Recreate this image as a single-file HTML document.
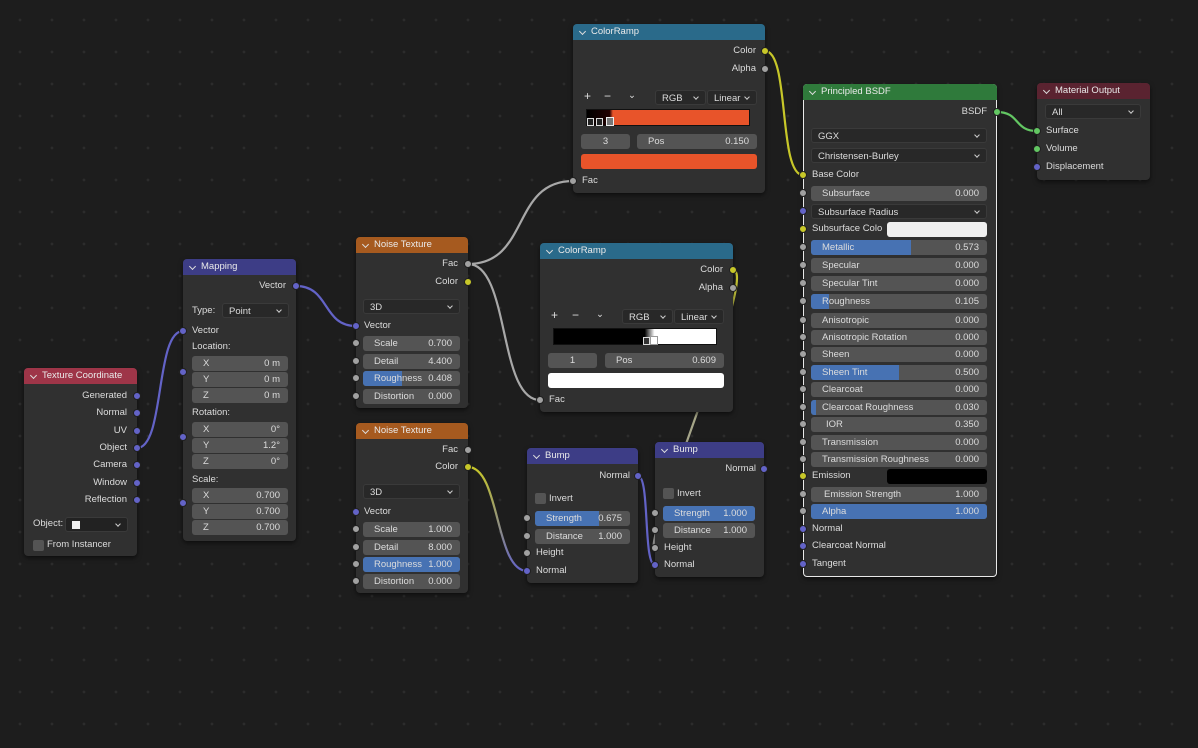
<!DOCTYPE html>
<html><head><meta charset="utf-8"><style>
*{margin:0;padding:0;box-sizing:border-box}
body{width:1198px;height:748px;overflow:hidden;position:relative;background-color:#1d1d1d;background-image:radial-gradient(circle,#2c2c2c 1.2px,transparent 1.6px);background-size:32px 32px;background-position:4px 4px;font-family:"Liberation Sans",sans-serif;font-size:9.5px;color:#dcdcdc}
.n{position:absolute;background:#303030;border-radius:4px;box-shadow:0 2px 5px rgba(0,0,0,.55)}
.h{position:absolute;left:0;right:0;top:0;height:16px;border-radius:4px 4px 0 0;color:#eaeaea;line-height:16px;padding-left:18px;font-size:9.5px}
.h:before{content:"";position:absolute;left:7px;top:5px;width:4px;height:4px;border-right:1.3px solid #ddd;border-bottom:1.3px solid #ddd;transform:rotate(45deg)}
.t{position:absolute;line-height:12px;white-space:nowrap}
.s{position:absolute;width:8px;height:8px;border-radius:50%;margin:-4px 0 0 -4px;background:#a1a1a1;border:1px solid #202020}
.y{background:#c7c729}.p{background:#6363c7}.g{background:#63c763}
.f{position:absolute;height:15px;background:#545454;border-radius:3px;line-height:15px;display:flex;justify-content:space-between;padding:0 8px 0 11px;white-space:nowrap;overflow:hidden}
.f span{position:relative}
.fill{position:absolute;left:0;top:0;bottom:0;background:#4772b3}
.d{position:absolute;height:15px;background:#282828;border-radius:3px;line-height:15px;padding-left:6px;white-space:nowrap;border:1px solid #3a3a3a}
.d:after{content:"";position:absolute;right:7px;top:4px;width:3px;height:3px;border-right:1.2px solid #ccc;border-bottom:1.2px solid #ccc;transform:rotate(45deg)}
.cb{position:absolute;width:11px;height:11px;background:#545454;border-radius:2px}
</style></head><body>

<svg width="1198" height="748" style="position:absolute;left:0;top:0" fill="none" stroke-width="2.2">
<defs>
<linearGradient id="yp" x1="0" y1="0" x2="0" y2="1"><stop offset="0" stop-color="#c7c729"/><stop offset="1" stop-color="#6363c7"/></linearGradient>
<linearGradient id="yg" x1="0" y1="0" x2="0" y2="1"><stop offset="0" stop-color="#c7c729"/><stop offset=".4" stop-color="#a8a880"/><stop offset="1" stop-color="#a1a1a1"/></linearGradient>
</defs>
<path d="M137 448 C165 448 155 331 183 331" stroke="#6363c7"/>
<path d="M296 286 C330 286 322 326 356 326" stroke="#6363c7"/>
<path d="M468 264 C530 264 511 181 573 181" stroke="#a8a8a8"/>
<path d="M468 264 C510 264 498 400 540 400" stroke="#a8a8a8"/>
<path d="M765 51 C790 51 778 175 803 175" stroke="#c7c729"/>
<path d="M733 270 C760 270 640 548 655 548" stroke="url(#yg)"/>
<path d="M468 467 C500 467 495 571 527 571" stroke="url(#yp)"/>
<path d="M638 476 C650 476 643 565 655 565" stroke="#6363c7"/>
<path d="M997 112 C1020 112 1014 131 1037 131" stroke="#63c763"/>
</svg>

<!-- Texture Coordinate -->
<div class="n" style="left:24px;top:368px;width:113px;height:188px"><div class="h" style="background:#9e3548">Texture Coordinate</div></div>
<div class="t" style="right:1071px;top:390px">Generated</div><div class="s p" style="left:137px;top:396px"></div>
<div class="t" style="right:1071px;top:407px">Normal</div><div class="s p" style="left:137px;top:413px"></div>
<div class="t" style="right:1071px;top:425px">UV</div><div class="s p" style="left:137px;top:431px"></div>
<div class="t" style="right:1071px;top:442px">Object</div><div class="s p" style="left:137px;top:448px"></div>
<div class="t" style="right:1071px;top:459px">Camera</div><div class="s p" style="left:137px;top:465px"></div>
<div class="t" style="right:1071px;top:477px">Window</div><div class="s p" style="left:137px;top:483px"></div>
<div class="t" style="right:1071px;top:494px">Reflection</div><div class="s p" style="left:137px;top:500px"></div>
<div class="t" style="left:33px;top:518px">Object:</div>
<div class="d" style="left:65px;top:517px;width:63px;background:#222"><span style="display:inline-block;width:8px;height:8px;background:#eee;margin-top:3px"></span></div>
<div class="cb" style="left:33px;top:540px"></div><div class="t" style="left:47px;top:539px">From Instancer</div>

<!-- Mapping -->
<div class="n" style="left:183px;top:259px;width:113px;height:282px"><div class="h" style="background:#3d3d86">Mapping</div></div>
<div class="t" style="right:912px;top:280px">Vector</div><div class="s p" style="left:296px;top:286px"></div>
<div class="t" style="left:192px;top:305px">Type:</div>
<div class="d" style="left:222px;top:303px;width:67px">Point</div>
<div class="t" style="left:192px;top:325px">Vector</div><div class="s p" style="left:183px;top:331px"></div>
<div class="t" style="left:192px;top:341px">Location:</div>
<div class="f" style="left:192px;top:356px;width:96px"><span>X</span><span>0 m</span></div>
<div class="f" style="left:192px;top:372px;width:96px"><span>Y</span><span>0 m</span></div>
<div class="f" style="left:192px;top:388px;width:96px"><span>Z</span><span>0 m</span></div>
<div class="s p" style="left:183px;top:372px"></div>
<div class="t" style="left:192px;top:407px">Rotation:</div>
<div class="f" style="left:192px;top:422px;width:96px"><span>X</span><span>0°</span></div>
<div class="f" style="left:192px;top:438px;width:96px"><span>Y</span><span>1.2°</span></div>
<div class="f" style="left:192px;top:454px;width:96px"><span>Z</span><span>0°</span></div>
<div class="s p" style="left:183px;top:437px"></div>
<div class="t" style="left:192px;top:474px">Scale:</div>
<div class="f" style="left:192px;top:488px;width:96px"><span>X</span><span>0.700</span></div>
<div class="f" style="left:192px;top:504px;width:96px"><span>Y</span><span>0.700</span></div>
<div class="f" style="left:192px;top:520px;width:96px"><span>Z</span><span>0.700</span></div>
<div class="s p" style="left:183px;top:503px"></div>

<!-- Noise 1 -->
<div class="n" style="left:356px;top:237px;width:112px;height:171px"><div class="h" style="background:#a65a1f">Noise Texture</div></div>
<div class="t" style="right:740px;top:258px">Fac</div><div class="s" style="left:468px;top:264px"></div>
<div class="t" style="right:740px;top:276px">Color</div><div class="s y" style="left:468px;top:282px"></div>
<div class="d" style="left:363px;top:299px;width:97px">3D</div>
<div class="t" style="left:364px;top:320px">Vector</div><div class="s p" style="left:356px;top:326px"></div>
<div class="f" style="left:363px;top:336px;width:97px"><span>Scale</span><span>0.700</span></div><div class="s" style="left:356px;top:343px"></div>
<div class="f" style="left:363px;top:354px;width:97px"><span>Detail</span><span>4.400</span></div><div class="s" style="left:356px;top:361px"></div>
<div class="f" style="left:363px;top:371px;width:97px"><div class="fill" style="width:40%"></div><span>Roughness</span><span>0.408</span></div><div class="s" style="left:356px;top:378px"></div>
<div class="f" style="left:363px;top:389px;width:97px"><span>Distortion</span><span>0.000</span></div><div class="s" style="left:356px;top:396px"></div>

<!-- Noise 2 -->
<div class="n" style="left:356px;top:423px;width:112px;height:170px"><div class="h" style="background:#a65a1f">Noise Texture</div></div>
<div class="t" style="right:740px;top:444px">Fac</div><div class="s" style="left:468px;top:450px"></div>
<div class="t" style="right:740px;top:461px">Color</div><div class="s y" style="left:468px;top:467px"></div>
<div class="d" style="left:363px;top:484px;width:97px">3D</div>
<div class="t" style="left:364px;top:506px">Vector</div><div class="s p" style="left:356px;top:512px"></div>
<div class="f" style="left:363px;top:522px;width:97px"><span>Scale</span><span>1.000</span></div><div class="s" style="left:356px;top:529px"></div>
<div class="f" style="left:363px;top:540px;width:97px"><span>Detail</span><span>8.000</span></div><div class="s" style="left:356px;top:547px"></div>
<div class="f" style="left:363px;top:557px;width:97px"><div class="fill" style="width:100%"></div><span>Roughness</span><span>1.000</span></div><div class="s" style="left:356px;top:564px"></div>
<div class="f" style="left:363px;top:574px;width:97px"><span>Distortion</span><span>0.000</span></div><div class="s" style="left:356px;top:581px"></div>

<!-- ColorRamp 1 -->
<div class="n" style="left:573px;top:24px;width:192px;height:169px"><div class="h" style="background:#2a6a8a">ColorRamp</div></div>
<div class="t" style="right:442px;top:45px">Color</div><div class="s y" style="left:765px;top:51px"></div>
<div class="t" style="right:442px;top:63px">Alpha</div><div class="s" style="left:765px;top:69px"></div>
<div class="t" style="left:584px;top:90px;font-size:12px">+</div><div class="t" style="left:604px;top:90px;font-size:12px">−</div><div class="t" style="left:628px;top:90px">⌄</div>
<div class="d" style="left:655px;top:90px;width:51px">RGB</div><div class="d" style="left:707px;top:90px;width:50px">Linear</div>
<div style="position:absolute;left:586px;top:109px;width:164px;height:17px;border:1px solid #111;background:linear-gradient(90deg,#000 0,#200 14%,#e8542a 16%,#e8542a 100%)"></div>
<div style="position:absolute;left:587px;top:118px;width:7px;height:8px;background:#222;border:1px solid #ddd"></div>
<div style="position:absolute;left:596px;top:118px;width:7px;height:8px;background:#222;border:1px solid #ddd"></div>
<div style="position:absolute;left:606px;top:117px;width:8px;height:9px;background:#777;border:1px solid #eee"></div>
<div class="f" style="left:581px;top:134px;width:49px;justify-content:center;padding:0">3</div>
<div class="f" style="left:637px;top:134px;width:120px"><span>Pos</span><span>0.150</span></div>
<div style="position:absolute;left:581px;top:154px;width:176px;height:15px;background:#e8542a;border-radius:3px"></div>
<div class="t" style="left:582px;top:175px">Fac</div><div class="s" style="left:573px;top:181px"></div>

<!-- ColorRamp 2 -->
<div class="n" style="left:540px;top:243px;width:193px;height:169px"><div class="h" style="background:#2a6a8a">ColorRamp</div></div>
<div class="t" style="right:475px;top:264px">Color</div><div class="s y" style="left:733px;top:270px"></div>
<div class="t" style="right:475px;top:282px">Alpha</div><div class="s" style="left:733px;top:288px"></div>
<div class="t" style="left:551px;top:309px;font-size:12px">+</div><div class="t" style="left:572px;top:309px;font-size:12px">−</div><div class="t" style="left:596px;top:309px">⌄</div>
<div class="d" style="left:622px;top:309px;width:51px">RGB</div><div class="d" style="left:674px;top:309px;width:50px">Linear</div>
<div style="position:absolute;left:553px;top:328px;width:164px;height:17px;border:1px solid #111;background:linear-gradient(90deg,#000 0,#000 56%,#fff 62%,#fff 100%)"></div>
<div style="position:absolute;left:643px;top:337px;width:7px;height:8px;background:#333;border:1px solid #ddd"></div>
<div style="position:absolute;left:650px;top:336px;width:8px;height:9px;background:#fff;border:1px solid #999"></div>
<div class="f" style="left:548px;top:353px;width:49px;justify-content:center;padding:0">1</div>
<div class="f" style="left:605px;top:353px;width:119px"><span>Pos</span><span>0.609</span></div>
<div style="position:absolute;left:548px;top:373px;width:176px;height:15px;background:#fff;border-radius:3px"></div>
<div class="t" style="left:549px;top:394px">Fac</div><div class="s" style="left:540px;top:400px"></div>

<!-- Bump 1 -->
<div class="n" style="left:527px;top:448px;width:111px;height:135px"><div class="h" style="background:#3d3d86">Bump</div></div>
<div class="t" style="right:568px;top:470px">Normal</div><div class="s p" style="left:638px;top:476px"></div>
<div class="cb" style="left:535px;top:493px"></div><div class="t" style="left:549px;top:493px">Invert</div>
<div class="f" style="left:535px;top:511px;width:95px"><div class="fill" style="width:67%"></div><span>Strength</span><span>0.675</span></div><div class="s" style="left:527px;top:518px"></div>
<div class="f" style="left:535px;top:529px;width:95px"><span>Distance</span><span>1.000</span></div><div class="s" style="left:527px;top:536px"></div>
<div class="t" style="left:536px;top:547px">Height</div><div class="s" style="left:527px;top:553px"></div>
<div class="t" style="left:536px;top:565px">Normal</div><div class="s p" style="left:527px;top:571px"></div>

<!-- Bump 2 -->
<div class="n" style="left:655px;top:442px;width:109px;height:135px"><div class="h" style="background:#3d3d86">Bump</div></div>
<div class="t" style="right:442px;top:463px">Normal</div><div class="s p" style="left:764px;top:469px"></div>
<div class="cb" style="left:663px;top:488px"></div><div class="t" style="left:677px;top:488px">Invert</div>
<div class="f" style="left:663px;top:506px;width:92px"><div class="fill" style="width:100%"></div><span>Strength</span><span>1.000</span></div><div class="s" style="left:655px;top:513px"></div>
<div class="f" style="left:663px;top:523px;width:92px"><span>Distance</span><span>1.000</span></div><div class="s" style="left:655px;top:530px"></div>
<div class="t" style="left:664px;top:542px">Height</div><div class="s" style="left:655px;top:548px"></div>
<div class="t" style="left:664px;top:559px">Normal</div><div class="s p" style="left:655px;top:565px"></div>

<!-- Principled BSDF -->
<div class="n" style="left:803px;top:84px;width:194px;height:493px;border:1px solid #e8e8e8"><div class="h" style="background:#2f7a3b;top:-1px;left:-1px;right:-1px">Principled BSDF</div></div>
<div class="t" style="right:211px;top:106px">BSDF</div><div class="s g" style="left:997px;top:112px"></div>
<div class="d" style="left:811px;top:128px;width:176px">GGX</div>
<div class="d" style="left:811px;top:148px;width:176px">Christensen-Burley</div>
<div class="t" style="left:812px;top:169px">Base Color</div><div class="s y" style="left:803px;top:175px"></div>
<div class="f" style="left:811px;top:186px;width:176px"><span>Subsurface</span><span>0.000</span></div><div class="s" style="left:803px;top:193px"></div>
<div class="d" style="left:811px;top:204px;width:176px">Subsurface Radius</div><div class="s p" style="left:803px;top:211px"></div>
<div class="t" style="left:812px;top:223px">Subsurface Colo</div><div style="position:absolute;left:887px;top:222px;width:100px;height:15px;background:#f0f0f0;border-radius:3px"></div><div class="s y" style="left:803px;top:229px"></div>
<div class="f" style="left:811px;top:240px;width:176px"><div class="fill" style="width:57%"></div><span>Metallic</span><span>0.573</span></div><div class="s" style="left:803px;top:247px"></div>
<div class="f" style="left:811px;top:258px;width:176px"><span>Specular</span><span>0.000</span></div><div class="s" style="left:803px;top:265px"></div>
<div class="f" style="left:811px;top:276px;width:176px"><span>Specular Tint</span><span>0.000</span></div><div class="s" style="left:803px;top:283px"></div>
<div class="f" style="left:811px;top:294px;width:176px"><div class="fill" style="width:10%"></div><span>Roughness</span><span>0.105</span></div><div class="s" style="left:803px;top:301px"></div>
<div class="f" style="left:811px;top:313px;width:176px"><span>Anisotropic</span><span>0.000</span></div><div class="s" style="left:803px;top:320px"></div>
<div class="f" style="left:811px;top:330px;width:176px"><span>Anisotropic Rotation</span><span>0.000</span></div><div class="s" style="left:803px;top:337px"></div>
<div class="f" style="left:811px;top:347px;width:176px"><span>Sheen</span><span>0.000</span></div><div class="s" style="left:803px;top:354px"></div>
<div class="f" style="left:811px;top:365px;width:176px"><div class="fill" style="width:50%"></div><span>Sheen Tint</span><span>0.500</span></div><div class="s" style="left:803px;top:372px"></div>
<div class="f" style="left:811px;top:382px;width:176px"><span>Clearcoat</span><span>0.000</span></div><div class="s" style="left:803px;top:389px"></div>
<div class="f" style="left:811px;top:400px;width:176px"><div class="fill" style="width:3%"></div><span>Clearcoat Roughness</span><span>0.030</span></div><div class="s" style="left:803px;top:407px"></div>
<div class="f" style="left:811px;top:417px;width:176px;padding-left:15px"><span>IOR</span><span>0.350</span></div><div class="s" style="left:803px;top:424px"></div>
<div class="f" style="left:811px;top:435px;width:176px"><span>Transmission</span><span>0.000</span></div><div class="s" style="left:803px;top:442px"></div>
<div class="f" style="left:811px;top:452px;width:176px"><span>Transmission Roughness</span><span>0.000</span></div><div class="s" style="left:803px;top:459px"></div>
<div class="t" style="left:812px;top:470px">Emission</div><div style="position:absolute;left:887px;top:469px;width:100px;height:15px;background:#000;border-radius:3px"></div><div class="s y" style="left:803px;top:476px"></div>
<div class="f" style="left:811px;top:487px;width:176px;padding-left:13px"><span>Emission Strength</span><span>1.000</span></div><div class="s" style="left:803px;top:494px"></div>
<div class="f" style="left:811px;top:504px;width:176px"><div class="fill" style="width:100%"></div><span>Alpha</span><span>1.000</span></div><div class="s" style="left:803px;top:511px"></div>
<div class="t" style="left:812px;top:523px">Normal</div><div class="s p" style="left:803px;top:529px"></div>
<div class="t" style="left:812px;top:540px">Clearcoat Normal</div><div class="s p" style="left:803px;top:546px"></div>
<div class="t" style="left:812px;top:558px">Tangent</div><div class="s p" style="left:803px;top:564px"></div>

<!-- Material Output -->
<div class="n" style="left:1037px;top:83px;width:113px;height:97px"><div class="h" style="background:#5a2330">Material Output</div></div>
<div class="d" style="left:1045px;top:104px;width:96px">All</div>
<div class="t" style="left:1046px;top:125px">Surface</div><div class="s g" style="left:1037px;top:131px"></div>
<div class="t" style="left:1046px;top:143px">Volume</div><div class="s g" style="left:1037px;top:149px"></div>
<div class="t" style="left:1046px;top:161px">Displacement</div><div class="s p" style="left:1037px;top:167px"></div>

</body></html>
